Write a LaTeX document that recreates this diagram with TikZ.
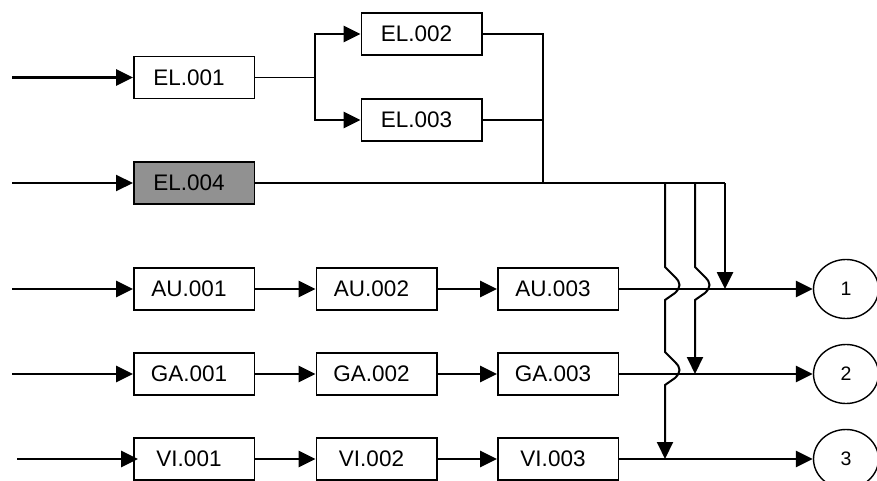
\documentclass[tikz,border=0pt]{standalone}
\usepackage{fontspec}
\setmainfont{Liberation Sans}
\usetikzlibrary{arrows.meta,shapes.geometric}
\definecolor{boxgrey}{RGB}{145,145,145}
\newcommand\bt[1]{\hspace*{-10pt}#1}
\begin{document}
\begin{tikzpicture}[x=1pt,y=-1pt,
  box/.style={draw,line width=1.5pt,minimum width=120.5pt,minimum height=42pt,inner sep=0pt,
    font=\fontsize{22.5}{26}\selectfont},
  ell/.style={ellipse,draw,line width=1.4pt,minimum width=65pt,minimum height=59pt,inner sep=0pt,
    font=\fontsize{19.5}{22}\selectfont},
  tip/.style={-{Triangle[length=17pt,width=16pt]}},
  thk/.style={line width=2.7pt},
  thn/.style={line width=1.5pt},
  mid/.style={line width=2pt},
]
\useasboundingbox (0,0) rectangle (877,481);
\def\bump{-- ++(10,10) .. controls +(6,6) and +(6,-6) .. ++(0,16) -- ++(-10,7)}

% boxes
\node[box] (el1) at (194,77.5) {\bt{EL.001}};
\node[box] (el2) at (421.5,34) {\bt{EL.002}};
\node[box] (el3) at (421.5,120) {\bt{EL.003}};
\node[box,fill=boxgrey] (el4) at (194,183) {\bt{EL.004}};
\node[box] (au1) at (194,289) {\bt{AU.001}};
\node[box] (au2) at (376.5,289) {\bt{AU.002}};
\node[box] (au3) at (558,289) {\bt{AU.003}};
\node[box] (ga1) at (194,374) {\bt{GA.001}};
\node[box] (ga2) at (376.5,374) {\bt{GA.002}};
\node[box] (ga3) at (558,374) {\bt{GA.003}};
\node[box] (vi1) at (194,459) {\bt{VI.001}};
\node[box] (vi2) at (376.5,459) {\bt{VI.002}};
\node[box] (vi3) at (558,459) {\bt{VI.003}};

\node[ell] (c1) at (846,289) {1};
\node[ell] (c2) at (846,374) {2};
\node[ell] (c3) at (846,459) {3};

% inputs
\coordinate (i1) at (12,77.5);
\coordinate (i4) at (12,183);
\coordinate (ia) at (12,289);
\coordinate (ig) at (12,374);
\coordinate (iv) at (17,459);
\draw[thk,tip] (i1) -- (el1.west);
\draw[mid,tip] (i4) -- (el4.west);
\draw[thk,tip] (ia) -- (au1.west);
\draw[thk,tip] (ig) -- (ga1.west);
\draw[thk,tip] (iv) -- ([xshift=5pt]vi1.west);

% fork
\coordinate (f) at (315,77.5);
\draw[thn] (el1.east) -- (f);
\draw[thk,tip] (f) |- (el2.west);
\draw[thk,tip] (f) |- (el3.west);

% merge to bus
\coordinate (m) at (543,183);
\draw[thn] (el2.east) -| (m);
\draw[thn] (el3.east) -- (el3.east -| m);
\coordinate (b1) at (665,183);
\coordinate (b2) at (695,183);
\coordinate (b3) at (725,183);
\draw[mid] (el4.east) -- (b3);

% rows
\draw[thk,tip] (au1.east) -- (au2.west);
\draw[thk,tip] (au2.east) -- (au3.west);
\draw[thk,tip] (ga1.east) -- (ga2.west);
\draw[thk,tip] (ga2.east) -- (ga3.west);
\draw[thk,tip] (vi1.east) -- (vi2.west);
\draw[thk,tip] (vi2.east) -- (vi3.west);

% outputs
\draw[thk,tip] (au3.east) -- (c1.west);
\draw[thk,tip] (ga3.east) -- (c2.west);
\draw[thk,tip] (vi3.east) -- (c3.west);

% drops from bus
\draw[thk,tip] (b3) -- (b3 |- au3.east);
\draw[mid,tip] (b2) -- ++(0,84) \bump -- (b2 |- ga3.east);
\draw[mid,tip] (b1) -- ++(0,84) \bump -- ++(0,52) \bump -- (b1 |- vi3.east);
\end{tikzpicture}
\end{document}
